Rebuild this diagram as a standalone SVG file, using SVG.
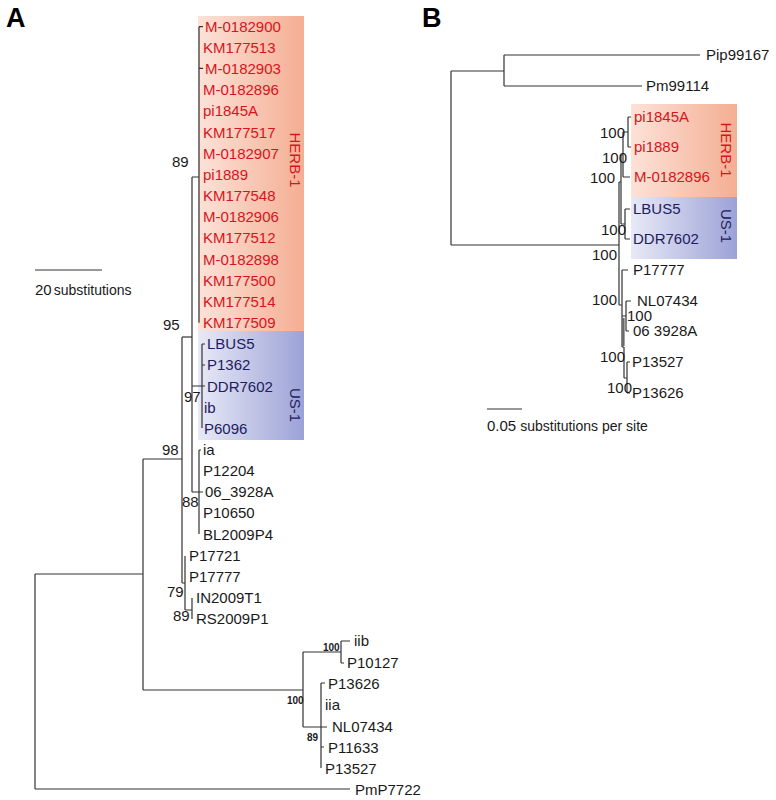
<svg xmlns="http://www.w3.org/2000/svg" width="776" height="800" viewBox="0 0 776 800">
<defs>
<linearGradient id="gHerb" x1="0" y1="0" x2="1" y2="0">
<stop offset="0" stop-color="#fde2d8"/><stop offset="1" stop-color="#f4ae93"/>
</linearGradient>
<linearGradient id="gUs" x1="0" y1="0" x2="1" y2="0">
<stop offset="0" stop-color="#e8e9f6"/><stop offset="1" stop-color="#9ca2d7"/>
</linearGradient>
<style>
text{font-family:"Liberation Sans",Arial,sans-serif;font-size:15px;fill:#1a1a1a}
.r{fill:#d7141c}
.n{fill:#1e205e}
.bs{font-size:15px}
.sb{font-size:10px;font-weight:bold}
.pl{font-size:27px;font-weight:bold;fill:#000}
.sm{font-size:14px}
.ln{stroke:#333;stroke-width:1.2;fill:none}
.gr{stroke:#666;stroke-width:2.2;fill:none}
</style>
</defs>
<rect width="776" height="800" fill="#fff"/>

<!-- Panel A -->
<g id="panelA-label"><text class="pl" x="6" y="27">A</text></g>
<g id="herb1-A">
<rect x="198" y="16" width="106" height="315" fill="url(#gHerb)"/>
<text class="r" transform="translate(290,160) rotate(90)" text-anchor="middle">HERB-1</text>
</g>
<g id="us1-A">
<rect x="198" y="331" width="106" height="109" fill="url(#gUs)"/>
<text class="n" transform="translate(290,405) rotate(90)" text-anchor="middle">US-1</text>
</g>

<g id="connectors-A" class="ln">
<path d="M199,26.7V322.7 M199,26.7H203 M199,68.4H203"/>
<path d="M192,177H199 M192,177V492"/>
<path d="M182,337H192"/>
<path d="M192,386H205 M202,344V428 M202,344H205 M202,365H205"/>
<path d="M192,492H203 M199,450V534 M199,450H201"/>
<path d="M182,337V583 M143,459H182"/>
<path d="M182,583H185 M185,556V610 M185,610H192 M192,598V619"/>
<path d="M143,459V690 M35,574H143"/>
<path d="M143,690H303 M303,652V727"/>
<path d="M303,652H341 M341,641V663 M341,641H350 M341,663H344"/>
<path d="M303,727H327 M321,683V768 M321,683H325 M321,747H324"/>
<path d="M35,574V789 M35,789H350"/>
<path d="M35,270H102"/>
</g>

<g id="leaves-A">
<text class="r" x="205" y="32">M-0182900</text>
<text class="r" x="203" y="53">KM177513</text>
<text class="r" x="205" y="74">M-0182903</text>
<text class="r" x="203" y="95">M-0182896</text>
<text class="r" x="203" y="116">pi1845A</text>
<text class="r" x="203" y="138">KM177517</text>
<text class="r" x="203" y="159">M-0182907</text>
<text class="r" x="203" y="180">pi1889</text>
<text class="r" x="203" y="201">KM177548</text>
<text class="r" x="203" y="222">M-0182906</text>
<text class="r" x="203" y="243">KM177512</text>
<text class="r" x="203" y="265">M-0182898</text>
<text class="r" x="203" y="286">KM177500</text>
<text class="r" x="203" y="307">KM177514</text>
<text class="r" x="203" y="328">KM177509</text>
<text class="n" x="207" y="349">LBUS5</text>
<text class="n" x="207" y="370">P1362</text>
<text class="n" x="207" y="392">DDR7602</text>
<text class="n" x="204" y="413">ib</text>
<text class="n" x="204" y="434">P6096</text>
<text x="203" y="455">ia</text>
<text x="203" y="476">P12204</text>
<text x="205" y="497">06_3928A</text>
<text x="203" y="518">P10650</text>
<text x="203" y="540">BL2009P4</text>
<text x="189" y="561">P17721</text>
<text x="189" y="582">P17777</text>
<text x="196" y="603">IN2009T1</text>
<text x="196" y="624">RS2009P1</text>
<text x="354" y="646">iib</text>
<text x="347" y="668">P10127</text>
<text x="328" y="689">P13626</text>
<text x="325" y="710">iia</text>
<text x="332" y="732">NL07434</text>
<text x="328" y="753">P11633</text>
<text x="325" y="774">P13527</text>
<text x="355" y="795">PmP7722</text>
</g>

<g id="support-A">
<text class="bs" x="172" y="167">89</text>
<text class="bs" x="163" y="330">95</text>
<text class="bs" x="184" y="402">97</text>
<text class="bs" x="162" y="455">98</text>
<text class="bs" x="182" y="507">88</text>
<text class="bs" x="167" y="597">79</text>
<text class="bs" x="173" y="621">89</text>
<text class="sb" x="323" y="651">100</text>
<text class="sb" x="287" y="704">100</text>
<text class="sb" x="307" y="741">89</text>
</g>
<g id="scale-A"><text x="35" y="295">20<tspan class="sm" dx="2">substitutions</tspan></text></g>

<!-- Panel B -->
<g id="panelB-label"><text class="pl" x="422" y="27">B</text></g>
<g id="herb1-B">
<rect x="631" y="104" width="106" height="93" fill="url(#gHerb)"/>
<text class="r" transform="translate(721,150) rotate(90)" text-anchor="middle">HERB-1</text>
</g>
<g id="us1-B">
<rect x="631" y="197" width="106" height="62" fill="url(#gUs)"/>
<text class="n" transform="translate(721,226) rotate(90)" text-anchor="middle">US-1</text>
</g>

<g id="connectors-B" class="ln">
<path d="M451,71V245 M451,71H504 M504,55V86 M504,55H700 M504,86H642"/>
<path d="M451,245H619 M619,182V305"/>
<path d="M628,117V147 M628,117H631 M628,147H631 M623,132H628 M623,132V177 M623,177H630"/>
<path d="M619,182H621 M621,155V224 M621,155H623 M621,224H625 M625,209V239 M625,209H630 M625,239H630"/>
<path d="M619,305H622 M622,270V347 M622,270H628"/>
<path d="M622,316H626 M626,301V331 M626,301H631 M626,331H629"/>
<path d="M622,347H624 M624,347V378 M624,378H627 M627,362V393 M627,362H630 M627,393H630"/>
<path d="M487,409H522"/>
</g>
<path class="gr" d="M623.5,318V346"/>

<g id="leaves-B">
<text x="706" y="60">Pip99167</text>
<text x="646" y="91">Pm99114</text>
<text class="r" x="634" y="122">pi1845A</text>
<text class="r" x="634" y="152">pi1889</text>
<text class="r" x="634" y="182">M-0182896</text>
<text class="n" x="633" y="214">LBUS5</text>
<text class="n" x="633" y="244">DDR7602</text>
<text x="633" y="275">P17777</text>
<text x="637" y="306">NL07434</text>
<text x="633" y="336">06 3928A</text>
<text x="632" y="367">P13527</text>
<text x="632" y="398">P13626</text>
</g>
<g id="support-B">
<text class="bs" x="600" y="138">100</text>
<text class="bs" x="602" y="163">100</text>
<text class="bs" x="590" y="183">100</text>
<text class="bs" x="601" y="235">100</text>
<text class="bs" x="592" y="260">100</text>
<text class="bs" x="592" y="305">100</text>
<text class="bs" x="627" y="321">100</text>
<text class="bs" x="600" y="362">100</text>
<text class="bs" x="607" y="393">100</text>
</g>
<g id="scale-B"><text x="487" y="431">0.05<tspan class="sm" dx="4">substitutions per site</tspan></text></g>
</svg>
